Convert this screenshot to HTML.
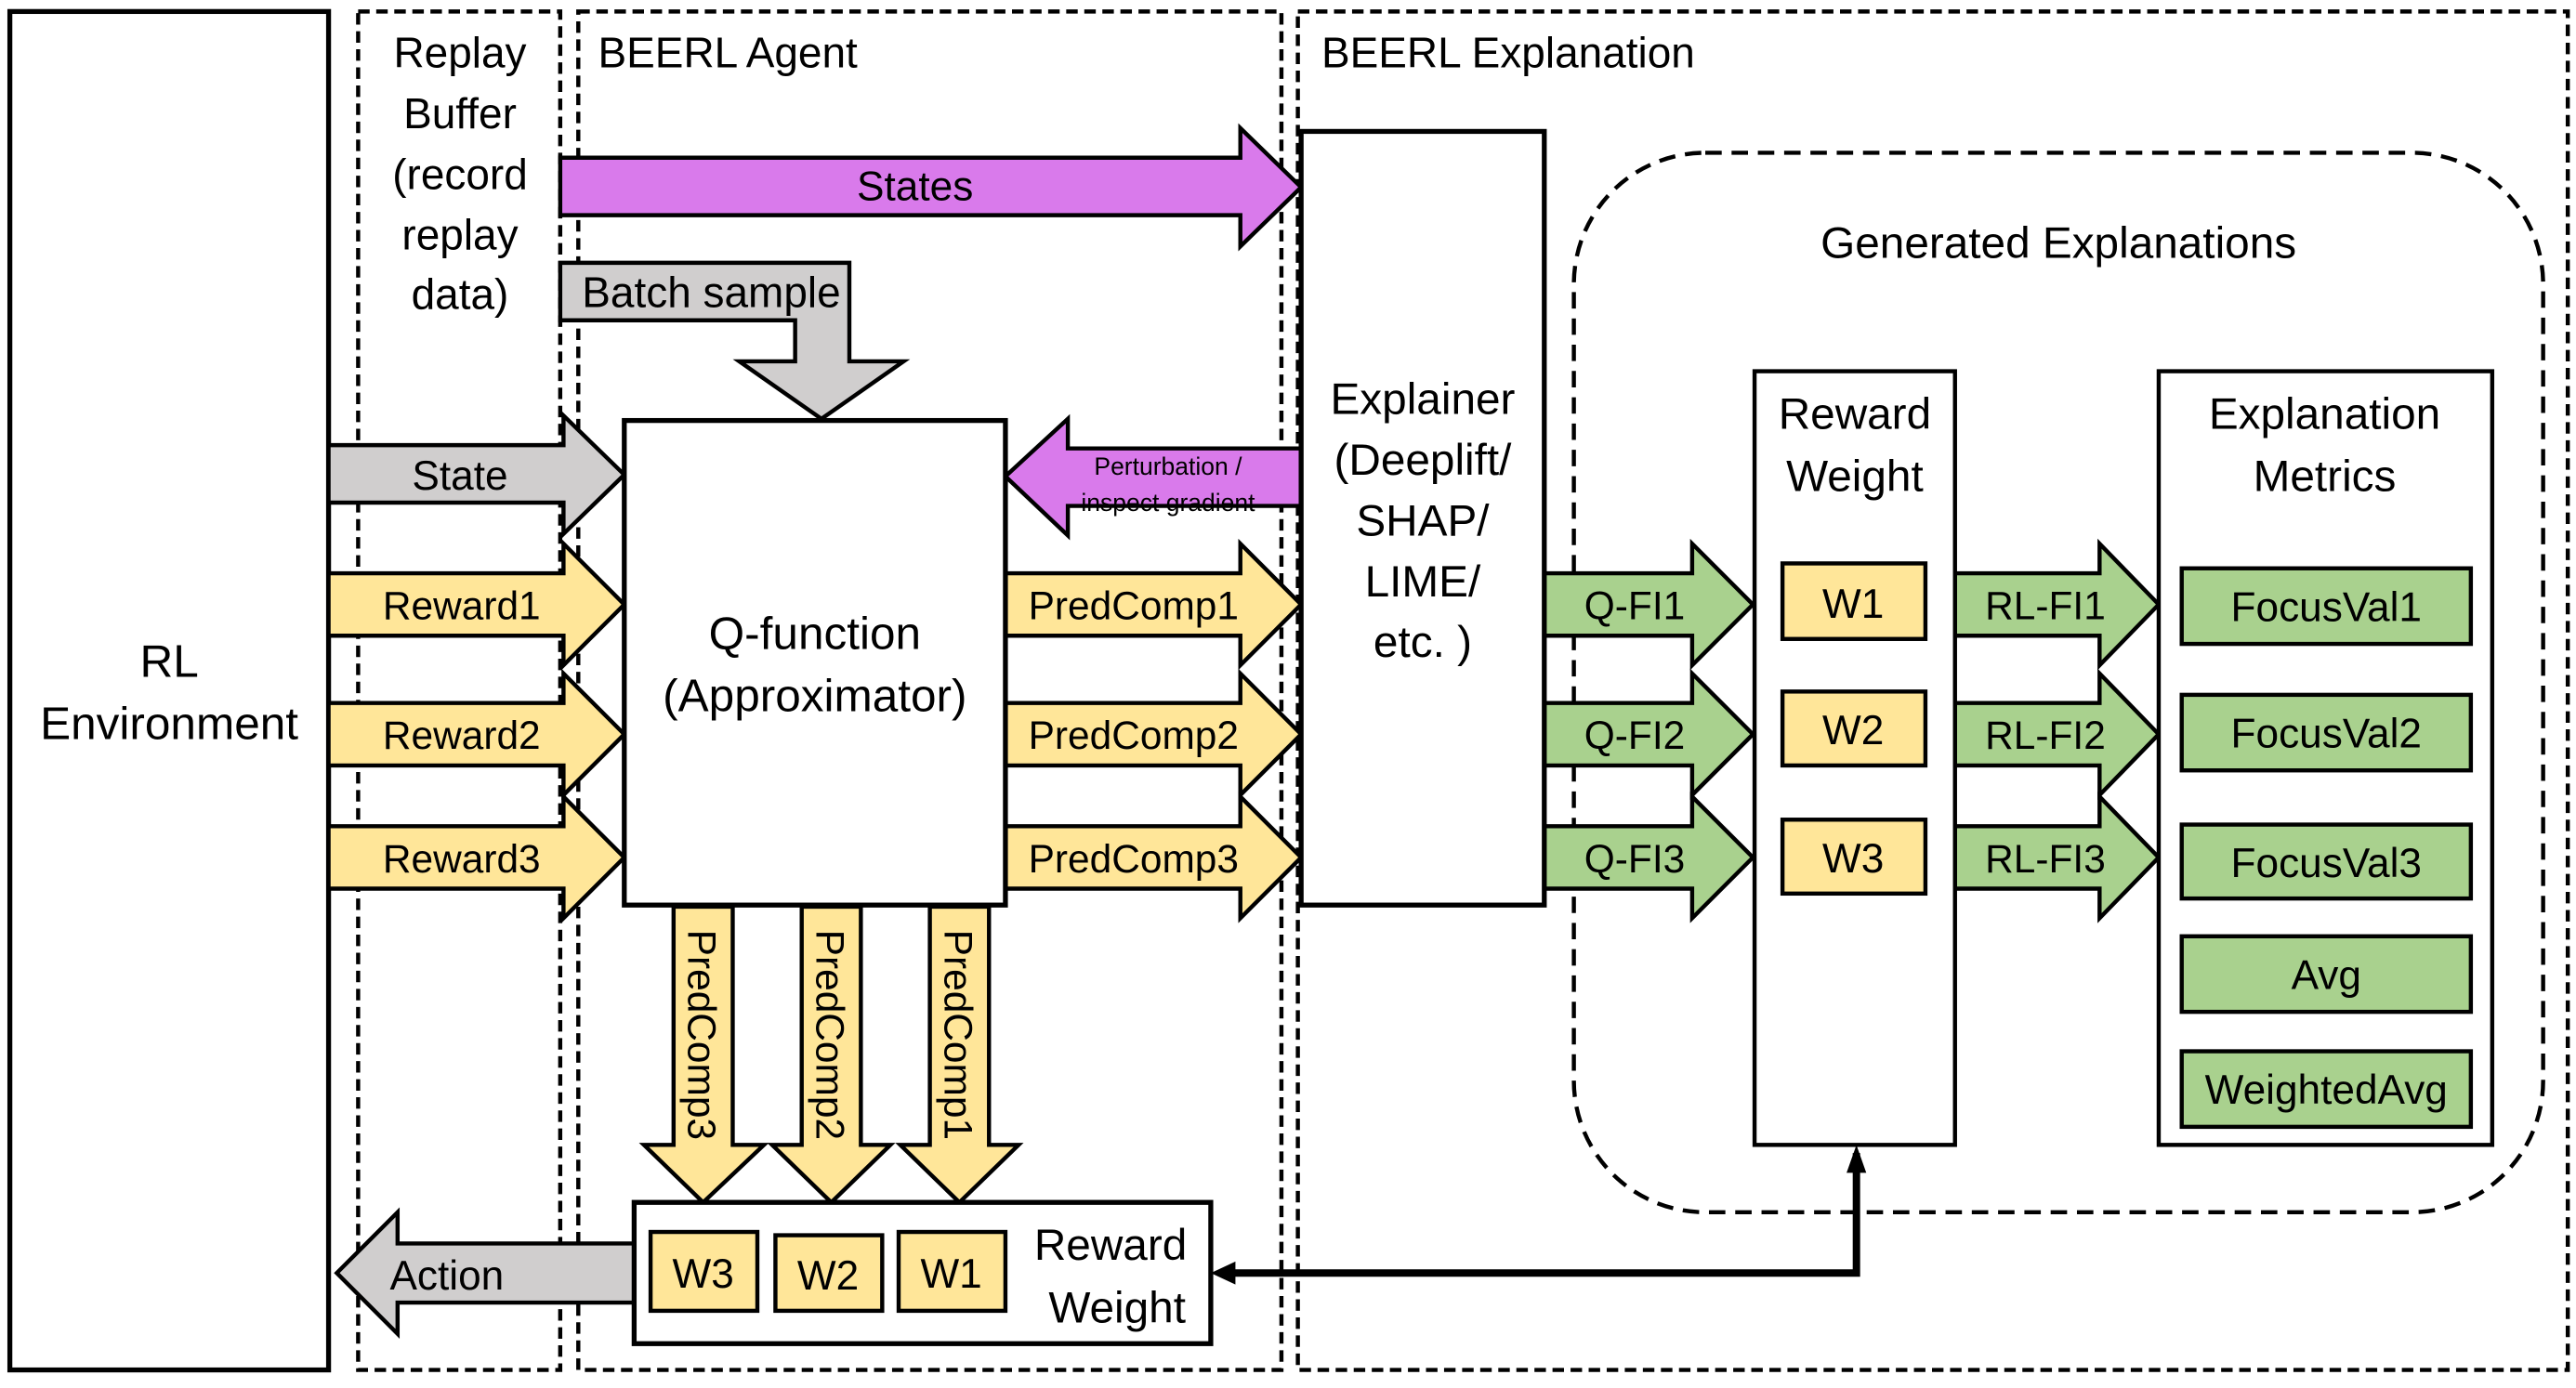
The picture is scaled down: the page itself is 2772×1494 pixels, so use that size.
<!DOCTYPE html>
<html><head><meta charset="utf-8"><style>html,body{margin:0;padding:0;background:#fff}svg{display:block}</style></head>
<body>
<svg width="2772" height="1494" viewBox="0 0 1568 845" preserveAspectRatio="none" xmlns="http://www.w3.org/2000/svg" font-family="Liberation Sans, sans-serif" font-size="25">
<g fill="none" stroke="#000" stroke-width="2.5">
<rect x="6" y="7" width="194" height="827" stroke-width="3"/>
<rect x="218" y="7" width="123" height="827" stroke-dasharray="7 4"/>
<rect x="352" y="7" width="428" height="827" stroke-dasharray="7 4"/>
<rect x="790" y="7" width="773" height="827" stroke-dasharray="7 4"/>
<rect x="958" y="93" width="590" height="645" rx="80" stroke-dasharray="10 6"/>
</g>
<g stroke="#000" stroke-width="2.5">
<path d="M341,96 H755 V78 L792,114 L755,150 V131 H341 z" fill="#D97AEB"/>
<path d="M341,160 H517 V220 H550 L500,255 L450,220 H484 V195 H341 z" fill="#D0CECE"/>
<path d="M200,271 H343 V253 L380,289 L343,325 V306 H200 z" fill="#D0CECE"/>
<path d="M200,349 H343 V331 L380,368 L343,405 V387 H200 z" fill="#FFE699"/>
<path d="M200,428 H343 V410 L380,447 L343,484 V466 H200 z" fill="#FFE699"/>
<path d="M200,503 H343 V485 L380,522 L343,559 V541 H200 z" fill="#FFE699"/>
<path d="M792,273 H650 V255 L612,290 L650,326 V308 H792 z" fill="#D97AEB"/>
<path d="M612,349 H755 V331 L792,368 L755,405 V387 H612 z" fill="#FFE699"/>
<path d="M612,428 H755 V410 L792,447 L755,484 V466 H612 z" fill="#FFE699"/>
<path d="M612,503 H755 V485 L792,522 L755,559 V541 H612 z" fill="#FFE699"/>
<path d="M940,349 H1030 V331 L1067,368 L1030,405 V387 H940 z" fill="#A9D18E"/>
<path d="M940,428 H1030 V410 L1067,447 L1030,484 V466 H940 z" fill="#A9D18E"/>
<path d="M940,503 H1030 V485 L1067,522 L1030,559 V541 H940 z" fill="#A9D18E"/>
<path d="M1190,349 H1278 V331 L1314,368 L1278,405 V387 H1190 z" fill="#A9D18E"/>
<path d="M1190,428 H1278 V410 L1314,447 L1278,484 V466 H1190 z" fill="#A9D18E"/>
<path d="M1190,503 H1278 V485 L1314,522 L1278,559 V541 H1190 z" fill="#A9D18E"/>
<path d="M410,552 V697 H392 L428,732 L465,697 H446 V552 z" fill="#FFE699"/>
<path d="M488,552 V697 H470 L506,732 L542,697 H524 V552 z" fill="#FFE699"/>
<path d="M566,552 V697 H548 L584,732 L620,697 H602 V552 z" fill="#FFE699"/>
<path d="M386,757 H242 V738 L205,775 L242,812 V793 H386 z" fill="#D0CECE"/>
<rect x="380" y="256" width="232" height="295" fill="#fff" stroke-width="3"/>
<rect x="792" y="80" width="148" height="471" fill="#fff" stroke-width="3"/>
<rect x="1068" y="226" width="122" height="471" fill="#fff"/>
<rect x="1314" y="226" width="203" height="471" fill="#fff"/>
<rect x="386" y="732" width="351" height="86" fill="#fff" stroke-width="3"/>
<g fill="#FFE699">
<rect x="1085" y="343" width="87" height="46"/><rect x="1085" y="421" width="87" height="45"/><rect x="1085" y="499" width="87" height="45"/>
<rect x="396" y="750" width="65" height="48"/><rect x="472" y="752" width="65" height="46"/><rect x="547" y="750" width="65" height="48"/>
</g>
<g fill="#A9D18E">
<rect x="1328" y="346" width="176" height="46"/><rect x="1328" y="423" width="176" height="46"/><rect x="1328" y="502" width="176" height="45"/><rect x="1328" y="570" width="176" height="46"/><rect x="1328" y="640" width="176" height="46"/>
</g>
</g>
<path d="M1130,702 V775 H743" fill="none" stroke="#000" stroke-width="4.5"/>
<path d="M1130,697 L1124,714 H1136 z M737,775 L752,768 V782 z"/>
<g text-anchor="middle" fill="#000">
<text x="280" y="41" font-size="26">Replay</text><text x="280" y="78" font-size="26">Buffer</text><text x="280" y="115" font-size="26">(record</text><text x="280" y="152" font-size="26">replay</text><text x="280" y="188" font-size="26">data)</text>
<text x="443" y="41" font-size="26">BEERL Agent</text>
<text x="918" y="41" font-size="26">BEERL Explanation</text>
<text x="557" y="122">States</text>
<text x="433" y="187" font-size="26">Batch sample</text>
<text x="280" y="298">State</text>
<text x="281" y="377" font-size="24">Reward1</text><text x="281" y="456" font-size="24">Reward2</text><text x="281" y="531" font-size="24">Reward3</text>
<text x="103" y="412" font-size="28">RL</text><text x="103" y="450" font-size="28">Environment</text>
<text x="496" y="395" font-size="28">Q-function</text><text x="496" y="433" font-size="28">(Approximator)</text>
<text x="711" y="289" font-size="15">Perturbation /</text><text x="711" y="311" font-size="15">inspect gradient</text>
<text x="690" y="377" font-size="24">PredComp1</text><text x="690" y="456" font-size="24">PredComp2</text><text x="690" y="531" font-size="24">PredComp3</text>
<text x="866" y="252" font-size="27">Explainer</text><text x="866" y="289" font-size="27">(Deeplift/</text><text x="866" y="326" font-size="27">SHAP/</text><text x="866" y="363" font-size="27">LIME/</text><text x="866" y="400" font-size="27">etc. )</text>
<text x="1253" y="157" font-size="27">Generated Explanations</text>
<text x="995" y="377" font-size="24">Q-FI1</text><text x="995" y="456" font-size="24">Q-FI2</text><text x="995" y="531" font-size="24">Q-FI3</text>
<text x="1129" y="261" font-size="27">Reward</text><text x="1129" y="299" font-size="27">Weight</text>
<text x="1128" y="376">W1</text><text x="1128" y="453">W2</text><text x="1128" y="531">W3</text>
<text x="1245" y="377" font-size="24">RL-FI1</text><text x="1245" y="456" font-size="24">RL-FI2</text><text x="1245" y="531" font-size="24">RL-FI3</text>
<text x="1415" y="261" font-size="27">Explanation</text><text x="1415" y="299" font-size="27">Metrics</text>
<text x="1416" y="378">FocusVal1</text><text x="1416" y="455">FocusVal2</text><text x="1416" y="534">FocusVal3</text><text x="1416" y="602">Avg</text><text x="1416" y="672">WeightedAvg</text>
<text x="428" y="784">W3</text><text x="504" y="785">W2</text><text x="579" y="784">W1</text>
<text x="676" y="767" font-size="27">Reward</text><text x="680" y="805" font-size="27">Weight</text>
<text x="272" y="785">Action</text>
<text transform="translate(419,630) rotate(90)" font-size="24">PredComp3</text>
<text transform="translate(497,630) rotate(90)" font-size="24">PredComp2</text>
<text transform="translate(575,630) rotate(90)" font-size="24">PredComp1</text>
</g>
</svg>
</body></html>
